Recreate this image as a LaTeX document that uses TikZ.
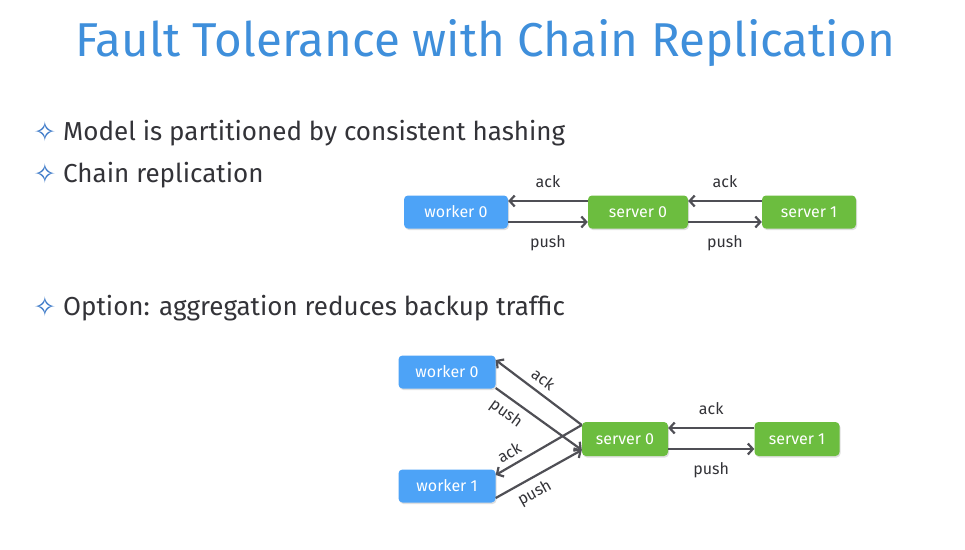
\documentclass[tikz,border=0pt]{standalone}
\usepackage{fontspec}
\setmainfont{Fira Sans}
\newfontfamily\symfont{DejaVu Sans}
\usetikzlibrary{arrows.meta}
\usetikzlibrary{shadows}

\definecolor{titleblue}{HTML}{3F8FDB}
\definecolor{boxblue}{HTML}{4DA3F7}
\definecolor{boxgreen}{HTML}{6CBD3F}
\definecolor{arrowgray}{HTML}{4F4F55}
\definecolor{textgray}{HTML}{333338}
\definecolor{stargray}{HTML}{3A78C8}

\newcommand{\bulletstar}{{\symfont\color{stargray}\fontsize{27}{28}\selectfont\raisebox{-1pt}{✧}}\hspace{7pt}}

\tikzset{
    box/.style={rectangle,rounded corners=4pt,text=white,font=\fontsize{16}{18}\selectfont,
        drop shadow={shadow xshift=1pt,shadow yshift=-1.5pt,opacity=0.25}},
    worker/.style={box,fill=boxblue},
    server/.style={box,fill=boxgreen},
    msg/.style={draw=arrowgray,line width=2.2pt,-{Straight Barb[length=5pt,width=11pt]}},
    lbl/.style={text=textgray,font=\fontsize{16}{18}\selectfont},
    bullet/.style={anchor=west,text=textgray,font=\fontsize{26}{30}\selectfont}
}

\begin{document}
\begin{tikzpicture}[x=1pt,y=-1pt]
        \useasboundingbox[fill=white] (0,0) rectangle (965,549);

        \node[text=titleblue,font=\fontsize{47.5}{52}\selectfont] (T) at (485,43) {Fault Tolerance with Chain Replication};

        \node[bullet] (B1) at (30,133) {\bulletstar Model is partitioned by consistent hashing};
        \node[bullet] (B2) at (30,175) {\bulletstar Chain replication};
        \node[bullet] (B3) at (30,308) {\bulletstar Option: aggregation reduces backup traffic};

        % plain chain
        \node[worker,minimum width=104pt,minimum height=33pt] (W0) at (456,212) {worker 0};
        \node[server,minimum width=100pt,minimum height=33pt] (S0) at (638,212) {server 0};
        \node[server,minimum width=94pt,minimum height=33pt] (S1) at (809,212) {server 1};

        \draw[msg] ([yshift=11pt]S0.west) -- ([yshift=11pt]W0.east) node[lbl,midway,above=9pt] {ack};
        \draw[msg] ([yshift=-10pt]W0.east) -- ([yshift=-10pt]S0.west) node[lbl,midway,below=9pt] {push};
        \draw[msg] ([yshift=11pt]S1.west) -- ([yshift=11pt]S0.east) node[lbl,midway,above=9pt] {ack};
        \draw[msg] ([yshift=-10pt]S0.east) -- ([yshift=-10pt]S1.west) node[lbl,midway,below=9pt] {push};

        % with aggregation
        \node[worker,minimum width=97pt,minimum height=33pt] (W0b) at (447,372) {worker 0};
        \node[worker,minimum width=97pt,minimum height=33pt] (W1b) at (447,486) {worker 1};
        \node[server,minimum width=86pt,minimum height=34pt] (S0b) at (625,439) {server 0};
        \node[server,minimum width=85pt,minimum height=34pt] (S1b) at (797,439) {server 1};

        \coordinate (In) at ([yshift=-11pt]S0b.west);
        \coordinate (Out) at ([yshift=14pt]S0b.west);

        \draw[msg] (Out) -- ([yshift=12pt]W0b.east) node[lbl,pos=0.54,sloped,above=3pt] {ack};
        \draw[msg] ([yshift=-16pt]W0b.east) -- (In) node[lbl,pos=0.22,sloped,below=3pt] {push};
        \draw[msg] (Out) -- ([yshift=11pt]W1b.east) node[lbl,pos=0.77,sloped,above=2pt] {ack};
        \draw[msg] ([yshift=-12pt]W1b.east) -- (In) node[lbl,pos=0.37,sloped,below=3pt] {push};

        \draw[msg] ([yshift=11pt]S1b.west) -- ([yshift=11pt]S0b.east) node[lbl,midway,above=9pt] {ack};
        \draw[msg] ([yshift=-10pt]S0b.east) -- ([yshift=-10pt]S1b.west) node[lbl,midway,below=9pt] {push};

    \end{tikzpicture}
\end{document}
